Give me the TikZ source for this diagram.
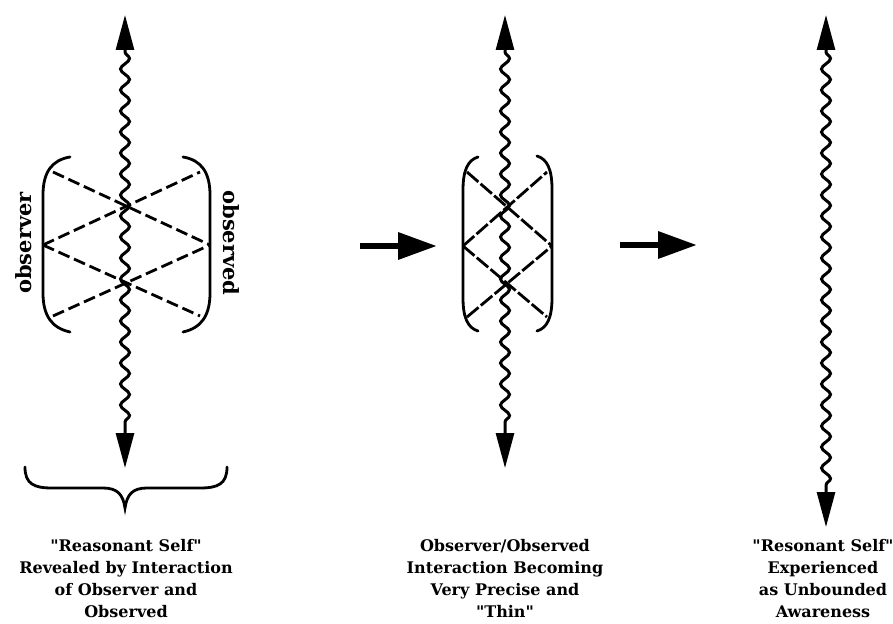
\documentclass[tikz,border=0pt]{standalone}
\usepackage{fontspec}
\setmainfont{DejaVu Serif}[Ligatures=TeXOff]
\usetikzlibrary{arrows.meta,decorations.pathmorphing}

\tikzset{
  wave/.style={line width=3pt, decorate,
    decoration={snake, amplitude=4.5pt, segment length=21pt, pre length=2pt, post length=2pt}},
  wavehead/.style={line width=2.8pt, -{Triangle[length=35pt,width=18pt]}},
  bracket/.style={line width=2.8pt, line cap=round},
  crossline/.style={line width=2.8pt, dash pattern=on 12pt off 5pt},
  tightline/.style={line width=2.8pt, dash pattern=on 15pt off 3pt},
  bigarrow/.style={line width=6.5pt, -{Triangle[length=39pt,width=26pt]}},
  caption/.style={align=center, inner sep=0pt, anchor=north,
    font=\fontsize{16}{22}\selectfont\bfseries},
  sidelabel/.style={inner sep=0pt, font=\fontsize{21}{24}\selectfont\bfseries}
}

\begin{document}
\begin{tikzpicture}[x=1pt, y=-1pt]
\useasboundingbox (0,0) rectangle (893,623);

% ---------- left: observer / observed interaction ----------
\coordinate (Ltip) at (125,15);
\coordinate (Ltop) at (125,50);
\coordinate (Lbot) at (125,433);
\coordinate (Lend) at (125,468);
\draw[wave] (Ltop) -- (Lbot);
\draw[wavehead] (Ltop) -- (Ltip);
\draw[wavehead] (Lbot) -- (Lend);

\draw[bracket] (70,157) .. controls (52,160) and (43,172) .. (43,195)
  -- (43,293) .. controls (43,316) and (52,328) .. (70,332);
\draw[bracket] (183,157) .. controls (201,160) and (210,172) .. (210,195)
  -- (210,293) .. controls (210,316) and (201,328) .. (183,332);

\coordinate (LA1) at (53,172);
\coordinate (LA2) at (43,245);
\coordinate (LA3) at (53,316);
\coordinate (LB1) at (200,172);
\coordinate (LB2) at (210,245);
\coordinate (LB3) at (200,316);
\draw[crossline] (LA1) -- (LB2);
\draw[crossline] (LA2) -- (LB1);
\draw[crossline] (LA2) -- (LB3);
\draw[crossline] (LA3) -- (LB2);

\node[sidelabel, rotate=90] (obsL) at (24,243) {observer};
\node[sidelabel, rotate=-90] (obsR) at (231,243) {observed};

\draw[bracket] (25,467) .. controls (25,484) and (34,488) .. (52,488)
  -- (103,488) .. controls (117,488) and (123,494) .. (125,508)
  .. controls (127,494) and (133,488) .. (147,488)
  -- (200,488) .. controls (218,488) and (227,484) .. (227,467);

\node[caption] (capL) at (126,539)
  {"Reasonant Self"\\Revealed by Interaction\\of Observer and\\Observed};

% ---------- transition arrows ----------
\coordinate (A1s) at (360,246);
\coordinate (A1e) at (437,246);
\draw[bigarrow] (A1s) -- (A1e);
\coordinate (A2s) at (620,245);
\coordinate (A2e) at (697,245);
\draw[bigarrow] (A2s) -- (A2e);

% ---------- middle: thin interaction ----------
\coordinate (Mtip) at (505,15);
\coordinate (Mtop) at (505,50);
\coordinate (Mbot) at (505,433);
\coordinate (Mend) at (505,468);
\draw[wave] (Mtop) -- (Mbot);
\draw[wavehead] (Mtop) -- (Mtip);
\draw[wavehead] (Mbot) -- (Mend);

\draw[bracket] (478,157) .. controls (468,160) and (463,170) .. (463,190)
  -- (463,298) .. controls (463,318) and (468,328) .. (478,331);
\draw[bracket] (537,156) .. controls (547,159) and (552,169) .. (552,189)
  -- (552,298) .. controls (552,318) and (547,328) .. (537,331);

\coordinate (MA1) at (467,172);
\coordinate (MA2) at (463,246);
\coordinate (MA3) at (467,317);
\coordinate (MB1) at (547,172);
\coordinate (MB2) at (552,246);
\coordinate (MB3) at (547,317);
\draw[tightline] (MA1) -- (MB2);
\draw[tightline] (MA2) -- (MB1);
\draw[tightline] (MA2) -- (MB3);
\draw[tightline] (MA3) -- (MB2);

\node[caption] (capM) at (505,539)
  {Observer/Observed\\Interaction Becoming\\Very Precise and\\"Thin"};

% ---------- right: unbounded awareness ----------
\coordinate (Rtip) at (826,15);
\coordinate (Rtop) at (826,50);
\coordinate (Rbot) at (826,492);
\coordinate (Rend) at (826,527);
\draw[wave] (Rtop) -- (Rbot);
\draw[wavehead] (Rtop) -- (Rtip);
\draw[wavehead] (Rbot) -- (Rend);

\node[caption] (capR) at (823,539)
  {"Resonant Self"\\Experienced\\as Unbounded\\Awareness};
\end{tikzpicture}
\end{document}
